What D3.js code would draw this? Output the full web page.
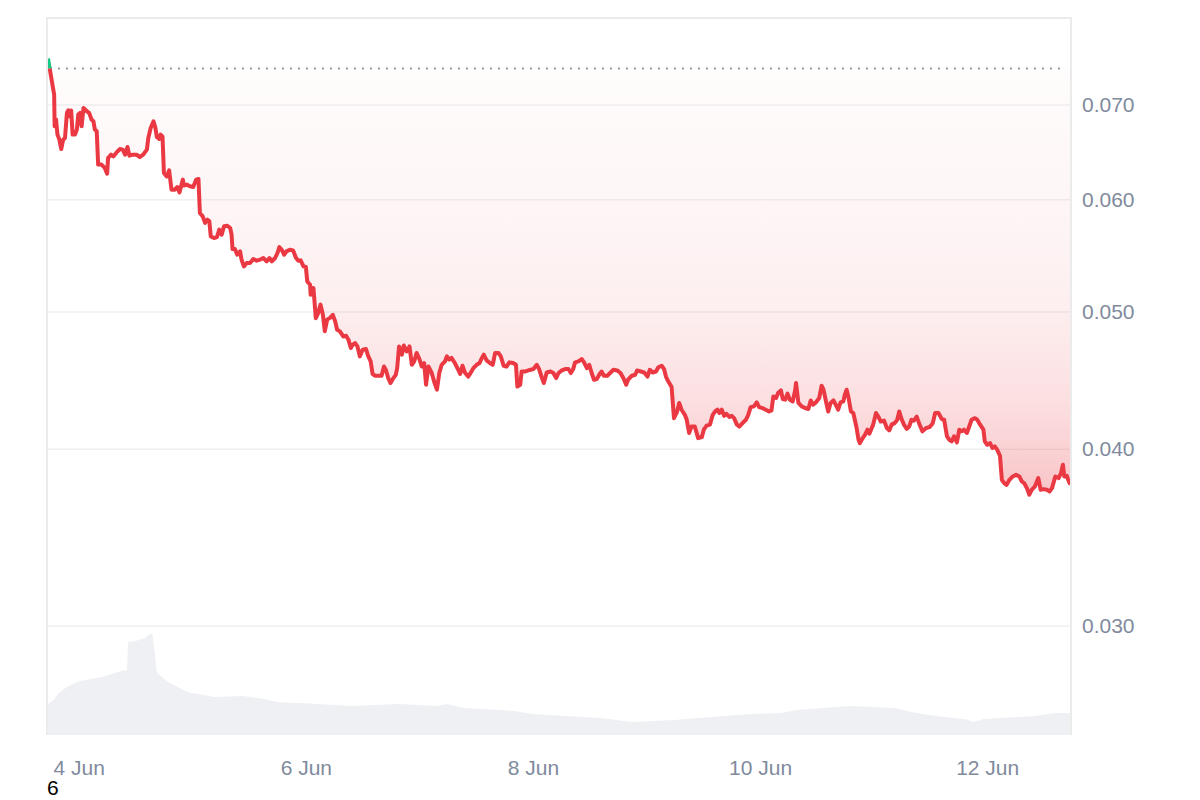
<!DOCTYPE html>
<html>
<head>
<meta charset="utf-8">
<script src="https://cdn.jsdelivr.net/npm/d3@7"></script>
<style>
  body { margin: 0; background: #fff; }
  svg { display: block; font-family: "Liberation Sans", Arial, sans-serif; }
</style>
</head>
<body>
<div id="chart"></div>
<script>
// time range of the chart, hours are counted from startTime
const startTime = new Date(2024, 5, 3, 17, 30);
const endTime = new Date(2024, 5, 12, 17, 30);

// [hours since start, price in USD]
const priceSeries = [
  [0,0.07542],[0.4,0.07408],[1.0,0.07209],[1.3,0.07113],[1.4,0.06756],[1.7,0.06830],[2.0,0.06665],[2.4,0.06611],[2.8,0.06511],[3.2,0.06611],
  [3.6,0.06629],[4.0,0.06905],[4.3,0.06934],[4.6,0.06866],[4.9,0.06931],[5.2,0.06665],[5.7,0.06665],[6.1,0.06720],[6.4,0.06886],[6.8,0.06905],
  [7.1,0.06756],[7.5,0.06960],[8.2,0.06923],[8.7,0.06905],[9.2,0.06830],[9.6,0.06811],[9.9,0.06720],[10.3,0.06701],[10.6,0.06348],[11.3,0.06348],
  [12.0,0.06314],[12.5,0.06255],[12.7,0.06416],[13.3,0.06451],[13.8,0.06433],[14.5,0.06475],[15.2,0.06511],[15.8,0.06504],[16.3,0.06451],[16.8,0.06532],
  [17.2,0.06441],[17.9,0.06451],[18.7,0.06451],[19.4,0.06427],[20.1,0.06451],[20.9,0.06504],[21.2,0.06629],[21.7,0.06738],[22.3,0.06811],[22.7,0.06738],
  [23.0,0.06640],[23.5,0.06619],[23.8,0.06665],[24.2,0.06646],[24.5,0.06262],[25.1,0.06227],[25.6,0.06289],[26.1,0.06095],[26.8,0.06095],[27.3,0.06121],
  [27.8,0.06068],[28.5,0.06195],[28.7,0.06135],[29.3,0.06145],[30.0,0.06128],[30.7,0.06121],[31.3,0.06195],[31.8,0.06202],[32.1,0.05868],[32.7,0.05836],
  [33.2,0.05774],[33.7,0.05805],[34.1,0.05789],[34.4,0.05649],[35.1,0.05634],[35.7,0.05643],[36.2,0.05711],[36.7,0.05665],[37.2,0.05742],[37.9,0.05748],
  [38.5,0.05727],[38.8,0.05665],[39.0,0.05534],[39.5,0.05534],[40.0,0.05483],[40.6,0.05513],[40.9,0.05439],[41.4,0.05380],[42.0,0.05410],[42.7,0.05410],
  [43.4,0.05445],[44.1,0.05430],[44.8,0.05439],[45.5,0.05454],[46.2,0.05424],[46.8,0.05454],[47.3,0.05424],[48.0,0.05454],[48.5,0.05498],[48.9,0.05552],
  [49.4,0.05528],[49.9,0.05483],[50.4,0.05513],[51.1,0.05528],[51.8,0.05522],[52.4,0.05456],[52.9,0.05430],[53.4,0.05433],[54.0,0.05380],[54.5,0.05375],
  [54.8,0.05250],[55.4,0.05222],[55.5,0.05138],[56.1,0.05194],[56.6,0.04946],[57.1,0.04987],[57.6,0.05056],[58.1,0.04973],[58.5,0.04841],[59.0,0.04934],
  [59.6,0.04948],[60.2,0.04973],[60.7,0.04920],[61.1,0.04854],[61.7,0.04841],[62.4,0.04801],[63.0,0.04806],[63.5,0.04776],[64.0,0.04712],[64.4,0.04737],
  [64.9,0.04750],[65.4,0.04724],[65.9,0.04648],[66.5,0.04699],[67.2,0.04704],[67.7,0.04648],[68.2,0.04610],[68.6,0.04518],[69.1,0.04504],[69.8,0.04504],
  [70.5,0.04504],[71.0,0.04572],[71.4,0.04548],[71.9,0.04487],[72.4,0.04451],[73.0,0.04487],[73.5,0.04511],[73.8,0.04560],[74.2,0.04724],[74.8,0.04661],
  [75.2,0.04731],[75.8,0.04686],[76.4,0.04724],[76.9,0.04585],[77.4,0.04610],[77.9,0.04674],[78.5,0.04628],[79.0,0.04572],[79.5,0.04598],[79.9,0.04439],
  [80.4,0.04572],[81.1,0.04524],[81.6,0.04462],[82.2,0.04403],[82.7,0.04524],[83.2,0.04585],[83.9,0.04610],[84.3,0.04648],[84.8,0.04623],[85.3,0.04636],
  [86.0,0.04598],[86.7,0.04548],[87.1,0.04518],[87.6,0.04578],[88.1,0.04528],[88.8,0.04498],[89.3,0.04524],[89.9,0.04560],[90.6,0.04585],[91.2,0.04598],
  [91.7,0.04636],[92.1,0.04661],[92.7,0.04618],[93.4,0.04598],[94.0,0.04585],[94.5,0.04674],[95.2,0.04674],[95.7,0.04648],[96.3,0.04578],[96.9,0.04572],
  [97.5,0.04603],[98.3,0.04598],[98.9,0.04585],[99.2,0.04426],[99.8,0.04439],[100.1,0.04535],[100.8,0.04535],[101.5,0.04543],[102.0,0.04548],[102.6,0.04553],
  [103.3,0.04585],[103.8,0.04553],[104.3,0.04498],[104.8,0.04451],[105.4,0.04528],[106.2,0.04535],[106.8,0.04524],[107.4,0.04487],[107.9,0.04524],[108.6,0.04543],
  [109.3,0.04553],[110.0,0.04553],[110.5,0.04524],[111.0,0.04553],[111.4,0.04603],[112.1,0.04610],[112.8,0.04628],[113.3,0.04603],[113.9,0.04560],[114.4,0.04585],
  [114.9,0.04524],[115.4,0.04475],[116.0,0.04480],[116.5,0.04511],[117.0,0.04535],[117.5,0.04504],[118.2,0.04504],[118.8,0.04524],[119.5,0.04548],[120.3,0.04543],
  [121.0,0.04524],[121.6,0.04487],[122.2,0.04439],[122.6,0.04475],[123.4,0.04504],[124.1,0.04511],[124.5,0.04543],[125.3,0.04535],[126.0,0.04528],[126.7,0.04498],
  [127.2,0.04548],[127.8,0.04528],[128.5,0.04535],[129.0,0.04567],[129.7,0.04578],[130.2,0.04553],[130.6,0.04498],[131.1,0.04462],[131.8,0.04422],[132.3,0.04204],
  [132.9,0.04243],[133.4,0.04309],[133.9,0.04262],[134.6,0.04227],[135.0,0.04193],[135.5,0.04104],[136.0,0.04147],[136.7,0.04147],[137.4,0.04070],[138.2,0.04077],
  [138.6,0.04126],[139.2,0.04153],[139.9,0.04160],[140.5,0.04227],[141.0,0.04250],[141.5,0.04262],[141.9,0.04239],[142.4,0.04262],[142.9,0.04220],[143.4,0.04234],
  [144.0,0.04212],[144.5,0.04220],[145.0,0.04204],[145.6,0.04160],[146.1,0.04147],[146.8,0.04170],[147.5,0.04193],[148.0,0.04227],[148.5,0.04280],[149.2,0.04285],
  [149.8,0.04313],[150.3,0.04280],[151.0,0.04273],[151.7,0.04262],[152.4,0.04250],[152.9,0.04257],[153.3,0.04355],[153.9,0.04344],[154.3,0.04380],[154.9,0.04398],
  [155.3,0.04337],[155.8,0.04332],[156.3,0.04375],[156.8,0.04332],[157.4,0.04320],[157.9,0.04398],[158.1,0.04451],[158.6,0.04309],[159.3,0.04285],[160.0,0.04274],
  [160.7,0.04267],[161.2,0.04327],[161.7,0.04297],[162.3,0.04313],[163.0,0.04344],[163.5,0.04432],[163.9,0.04403],[164.5,0.04309],[164.9,0.04250],[165.4,0.04309],
  [166.0,0.04327],[166.6,0.04290],[167.0,0.04262],[167.5,0.04313],[168.1,0.04320],[168.4,0.04367],[168.8,0.04403],[169.2,0.04344],[169.7,0.04250],[170.2,0.04239],
  [170.6,0.04181],[170.9,0.04137],[171.3,0.04059],[171.6,0.04037],[172.2,0.04070],[172.7,0.04093],[173.2,0.04126],[173.6,0.04099],[174.1,0.04137],[174.4,0.04160],
  [175.0,0.04239],[175.5,0.04215],[176.0,0.04181],[176.7,0.04187],[177.3,0.04137],[177.8,0.04121],[178.3,0.04160],[179.0,0.04172],[179.5,0.04193],[179.9,0.04250],
  [180.4,0.04198],[180.9,0.04160],[181.5,0.04131],[182.0,0.04147],[182.5,0.04193],[183.0,0.04187],[183.6,0.04215],[184.1,0.04170],[184.8,0.04115],[185.6,0.04137],
  [186.3,0.04143],[187.0,0.04170],[187.5,0.04239],[188.2,0.04239],[188.9,0.04198],[189.4,0.04193],[190.0,0.04081],[190.5,0.04059],[191.0,0.04048],[191.5,0.04081],
  [192.1,0.04041],[192.6,0.04126],[193.1,0.04115],[193.6,0.04126],[194.2,0.04104],[194.7,0.04147],[195.2,0.04193],[195.9,0.04204],[196.4,0.04193],[197.0,0.04160],
  [197.7,0.04126],[198.0,0.04048],[198.5,0.04026],[199.1,0.04037],[199.6,0.04005],[200.1,0.04015],[200.6,0.03994],[201.2,0.03955],[201.6,0.03803],[202.1,0.03783],
  [202.6,0.03772],[203.2,0.03803],[203.9,0.03824],[204.6,0.03834],[205.3,0.03824],[205.8,0.03793],[206.3,0.03783],[206.9,0.03752],[207.4,0.03712],[207.9,0.03742],
  [208.6,0.03763],[209.3,0.03814],[209.8,0.03742],[210.4,0.03746],[211.1,0.03742],[211.7,0.03732],[212.2,0.03752],[212.9,0.03824],[213.6,0.03814],[214.1,0.03845],
  [214.5,0.03897],[214.8,0.03824],[215.3,0.03828],[215.9,0.03783],[216.0,0.03785]
];

// [hours since start, volume in millions USD]
const volumeSeries = [
  [0,3.1],[1.2,3.5],[2.3,4.2],[4.0,4.8],[5.2,5.1],[6.8,5.4],[9.2,5.6],[11.6,5.8],[14.1,6.2],[15.6,6.4],
  [16.7,6.5],[16.9,9.3],[18.5,9.4],[20.5,9.7],[21.5,10.1],[22.1,10.1],[23.0,6.3],[23.8,5.9],[25.4,5.3],[27.0,4.9],
  [28.6,4.5],[30.2,4.2],[31.9,4.1],[35.1,3.8],[41.2,3.9],[45.7,3.6],[48.4,3.3],[57.3,3.1],[64.0,2.9],[74.2,3.1],
  [82.0,2.9],[84.3,3.1],[87.9,2.7],[98.5,2.4],[102.5,2.1],[109.3,1.9],[116.7,1.7],[123.4,1.3],[132.3,1.5],[137.6,1.7],
  [142.9,1.9],[148.6,2.1],[154.9,2.2],[158.3,2.5],[163.8,2.7],[169.5,2.9],[179.2,2.7],[181.5,2.4],[184.9,2.1],[189.4,1.8],
  [193.8,1.6],[195.7,1.3],[197.8,1.6],[205.4,1.8],[208.6,1.9],[212.8,2.2],[216,2.2]
];

const baselinePrice = 0.0742;
const priceTicks = [0.03, 0.04, 0.05, 0.06, 0.07];
const dateTicks = [new Date(2024, 5, 4), new Date(2024, 5, 6), new Date(2024, 5, 8), new Date(2024, 5, 10), new Date(2024, 5, 12)];
const priceDomain = [0.02512, 0.08056];
const volumeDomain = [0, 11.5];

const W = 1200, H = 800;
const plot = { left: 48, right: 1070, top: 18, bottom: 735 };
const volumeTop = 620;
const red = '#ea3943', green = '#16c784';
const labelFont = '"Liberation Sans", Arial, sans-serif';

const toDate = h => new Date(startTime.getTime() + h * 3600e3);

const svg = d3.select('#chart').append('svg')
  .attr('width', W)
  .attr('height', H);

const x = d3.scaleTime().domain([startTime, endTime]).range([plot.left, plot.right]);
const y = d3.scaleLog().domain(priceDomain).range([plot.bottom, plot.top]);
const yVol = d3.scaleLinear().domain(volumeDomain).range([plot.bottom, volumeTop]);

const baseY = y(baselinePrice);
const lowY = y(d3.min(priceSeries, d => d[1]));

// gradient under the baseline
const defs = svg.append('defs');
const grad = defs.append('linearGradient')
  .attr('id', 'redFill')
  .attr('gradientUnits', 'userSpaceOnUse')
  .attr('x1', 0).attr('x2', 0)
  .attr('y1', baseY).attr('y2', lowY);
[[0, 0.015], [0.3, 0.045], [0.55, 0.08], [0.78, 0.16], [0.94, 0.26], [1, 0.3]].forEach(([o, a]) => {
  grad.append('stop').attr('offset', o).attr('stop-color', red).attr('stop-opacity', a);
});

defs.append('clipPath').attr('id', 'belowBase')
  .append('rect')
  .attr('x', plot.left).attr('y', baseY)
  .attr('width', plot.right - plot.left).attr('height', plot.bottom - baseY);
defs.append('clipPath').attr('id', 'aboveBase')
  .append('rect')
  .attr('x', plot.left).attr('y', plot.top)
  .attr('width', plot.right - plot.left).attr('height', baseY - plot.top);

// grid lines + price labels on the right
const yAxis = svg.append('g')
  .attr('transform', `translate(${plot.right},0)`)
  .call(d3.axisRight(y)
    .tickValues(priceTicks)
    .tickSize(-(plot.right - plot.left))
    .tickPadding(12)
    .tickFormat(d3.format('.3f')));
yAxis.select('.domain').remove();
yAxis.selectAll('.tick line').attr('stroke', '#eff0f3').attr('stroke-width', 1.5);
yAxis.selectAll('.tick text')
  .attr('fill', '#808a9d')
  .style('font-size', '21px')
  .style('font-family', labelFont);

// volume
svg.append('path')
  .datum(volumeSeries)
  .attr('fill', '#eef0f3')
  .attr('d', d3.area()
    .x(d => x(toDate(d[0])))
    .y0(plot.bottom)
    .y1(d => yVol(d[1])));

// fill between price and baseline
svg.append('path')
  .datum(priceSeries)
  .attr('clip-path', 'url(#belowBase)')
  .attr('fill', 'url(#redFill)')
  .attr('d', d3.area()
    .x(d => x(toDate(d[0])))
    .y0(baseY)
    .y1(d => y(d[1])));

// dotted baseline
svg.append('line')
  .attr('x1', plot.left + 2).attr('x2', plot.right - 4)
  .attr('y1', baseY).attr('y2', baseY)
  .attr('stroke', '#9a9a9a')
  .attr('stroke-width', 2)
  .attr('stroke-dasharray', '2,6');

// price line, green above baseline and red below
const line = d3.line()
  .x(d => x(toDate(d[0])))
  .y(d => y(d[1]));
[['aboveBase', green], ['belowBase', red]].forEach(([clip, color]) => {
  svg.append('path')
    .datum(priceSeries)
    .attr('clip-path', `url(#${clip})`)
    .attr('fill', 'none')
    .attr('stroke', color)
    .attr('stroke-width', 4)
    .attr('stroke-linejoin', 'round')
    .attr('d', line);
});

// frame
svg.append('path')
  .attr('fill', 'none')
  .attr('stroke', '#ebebeb')
  .attr('stroke-width', 2)
  .attr('d', `M${plot.left - 1},${plot.bottom}V${plot.top}H${plot.right + 1}V${plot.bottom}`);

// date labels
const xAxis = svg.append('g')
  .attr('transform', `translate(0,${plot.bottom})`)
  .call(d3.axisBottom(x)
    .tickValues(dateTicks)
    .tickSize(0)
    .tickPadding(25)
    .tickFormat(d3.timeFormat('%-d %b')));
xAxis.select('.domain').remove();
xAxis.selectAll('.tick text')
  .attr('fill', '#808a9d')
  .style('font-size', '21px')
  .style('font-family', labelFont);

// stray label under the axis
svg.append('text')
  .attr('x', plot.left - 1)
  .attr('y', 795)
  .attr('fill', '#000')
  .style('font-size', '21px')
  .style('font-family', labelFont)
  .text('6');
</script>
</body>
</html>
